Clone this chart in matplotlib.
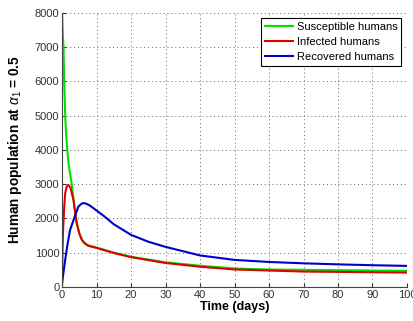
import matplotlib
matplotlib.use("Agg")
import matplotlib.pyplot as plt

plt.rcParams["font.family"] = ["Liberation Sans", "DejaVu Sans"]
plt.rcParams["mathtext.fontset"] = "custom"
plt.rcParams["mathtext.rm"] = "Liberation Sans"
plt.rcParams["mathtext.it"] = "Liberation Sans:italic"
plt.rcParams["mathtext.bf"] = "Liberation Sans:bold"

# Data
t_s = [0, 0.2, 0.4, 0.6, 0.9, 1.2, 1.5, 2, 2.8, 3.5, 4, 5, 6, 7, 8, 10, 15, 20, 30, 40, 50, 60, 70, 80, 90, 100]
susceptible = [8000, 7400, 7000, 6000, 5000, 4400, 4000, 3500, 3000, 2400, 2000, 1550, 1330, 1240, 1200, 1150, 1000, 880, 720, 620, 540, 510, 500, 490, 480, 470]

t_i = [0, 0.1, 0.3, 0.6, 0.9, 1.3, 1.8, 2.4, 3.3, 4.2, 5, 5.7, 6.5, 7.6, 10, 15, 20, 30, 40, 50, 60, 70, 80, 90, 100]
infected = [100, 1000, 1700, 2300, 2740, 2920, 2980, 2900, 2540, 1870, 1560, 1380, 1280, 1200, 1140, 990, 870, 700, 590, 510, 480, 450, 440, 430, 420]

t_r = [0, 0.5, 0.9, 1.5, 2.3, 3.3, 4.7, 5.5, 6.1, 7, 8, 10, 12, 15, 20, 25, 30, 40, 50, 60, 70, 80, 90, 100]
recovered = [120, 500, 790, 1200, 1660, 1950, 2340, 2420, 2450, 2430, 2380, 2230, 2080, 1830, 1520, 1320, 1170, 920, 790, 730, 690, 660, 635, 615]

fig = plt.figure(figsize=(4.14, 3.21), dpi=100)
ax = fig.add_axes([0.15, 0.106, 0.833, 0.854])

ax.plot(t_s, susceptible, color="#00e000", lw=1.5, label="Susceptible humans")
ax.plot(t_i, infected, color="#e00000", lw=1.5, label="Infected humans")
ax.plot(t_r, recovered, color="#0000c8", lw=1.5, label="Recovered humans")

ax.set_xlim(0, 100)
ax.set_ylim(0, 8000)
ax.set_xticks(range(0, 101, 10))
ax.set_yticks(range(0, 8001, 1000))
ax.grid(True, linestyle=(0, (1, 3)), color="#666666", lw=0.7)

for s in ["top", "right"]:
    ax.spines[s].set_visible(False)
for s in ["left", "bottom"]:
    ax.spines[s].set_color("#444444")
ax.tick_params(direction="in", length=3, labelsize=8, colors="#333333", pad=2)

ax.set_xlabel("Time (days)", fontsize=9, fontweight="bold", labelpad=1)
ax.set_ylabel(r"Human population at $\alpha_1$ = 0.5", fontsize=9.8, fontweight="bold", labelpad=8)

leg = ax.legend(loc="upper right", fontsize=8, fancybox=False, framealpha=1,
                edgecolor="black", borderaxespad=0.5, handlelength=2.6,
                labelspacing=0.45, borderpad=0.35, handletextpad=0.3)
leg.get_frame().set_linewidth(0.8)

fig.savefig("out.png", dpi=100)
